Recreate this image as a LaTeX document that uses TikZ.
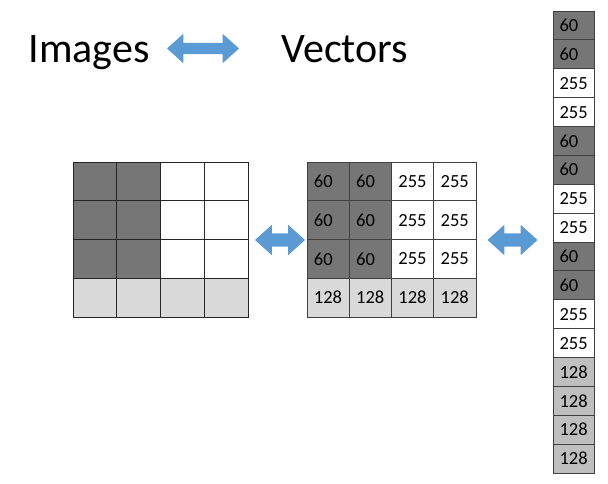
\documentclass[tikz,border=0pt]{standalone}
\usepackage{fontspec}
\setmainfont{Carlito}
\usetikzlibrary{shapes.arrows}
\definecolor{darkpix}{RGB}{118,118,118}
\definecolor{lightpix}{RGB}{217,217,217}
\definecolor{midpix}{RGB}{191,191,191}
\definecolor{swapblue}{RGB}{91,155,213}

\begin{document}
\begin{tikzpicture}[x=1pt,y=-1pt]
	\tikzstyle{pixel} = [rectangle,draw=black!85,line width=0.8pt,minimum width=43.75pt,minimum height=38.75pt,inner sep=0pt]
	\tikzstyle{entry} = [rectangle,draw=black!75,line width=0.8pt,minimum width=42.25pt,minimum height=38.75pt,text width=28.5pt,inner sep=0pt,align=left,font=\fontsize{18.5}{20}\selectfont]
	\tikzstyle{vcell} = [entry,minimum width=41pt,minimum height=28.9pt,text width=28pt]
	\tikzstyle{swap} = [double arrow,fill=swapblue,draw=none,double arrow tip angle=84]
	\useasboundingbox (0,0) rectangle (608,484);
	% title
	\node[anchor=base west,font=\fontsize{42}{50}\selectfont] (images) at (25,63) {Images};
	\node[swap,minimum height=72pt,double arrow head extend=9pt,inner sep=5.5pt] (titleswap) at (203,48.5) {};
	\node[anchor=base west,font=\fontsize{42}{50}\selectfont] (vectors) at (278,63) {Vectors};
	% image grid
	\foreach \r in {1,2,3}
		\foreach \c/\col in {1/darkpix,2/darkpix,3/white,4/white}
			\node[pixel,fill=\col] (img\r\c) at ({73+43.75*(\c-0.5)}, {162+38.75*(\r-0.5)}) {};
	\foreach \c in {1,...,4}
		\node[pixel,fill=lightpix] (img4\c) at ({73+43.75*(\c-0.5)}, {162+38.75*3.5}) {};
	% value grid
	\foreach \r in {1,2,3}
		\foreach \c/\col/\val in {1/darkpix/60,2/darkpix/60,3/white/255,4/white/255}
			\node[entry,fill=\col] (val\r\c) at ({307+42.25*(\c-0.5)}, {162+38.75*(\r-0.5)}) {\val};
	\foreach \c in {1,...,4}
		\node[entry,fill=lightpix] (val4\c) at ({307+42.25*(\c-0.5)}, {162+38.75*3.5}) {128};
	% arrows between
	\node[swap,minimum height=50pt,double arrow head extend=8.5pt,inner sep=6.5pt] (leftswap) at (280,240) {};
	\node[swap,minimum height=50pt,double arrow head extend=8.5pt,inner sep=6.5pt] (rightswap) at (512.5,240) {};
	% vector column
	\foreach \r in {0,1,2}
		\foreach \k/\col/\val in {1/darkpix/60,2/darkpix/60,3/white/255,4/white/255}
			\node[vcell,fill=\col] (vec\r\k) at (573.5, {11+28.875*(4*\r+\k-0.5)}) {\val};
	\foreach \k in {1,...,4}
		\node[vcell,fill=midpix] (vec3\k) at (573.5, {11+28.875*(12+\k-0.5)}) {128};
\end{tikzpicture}
\end{document}
